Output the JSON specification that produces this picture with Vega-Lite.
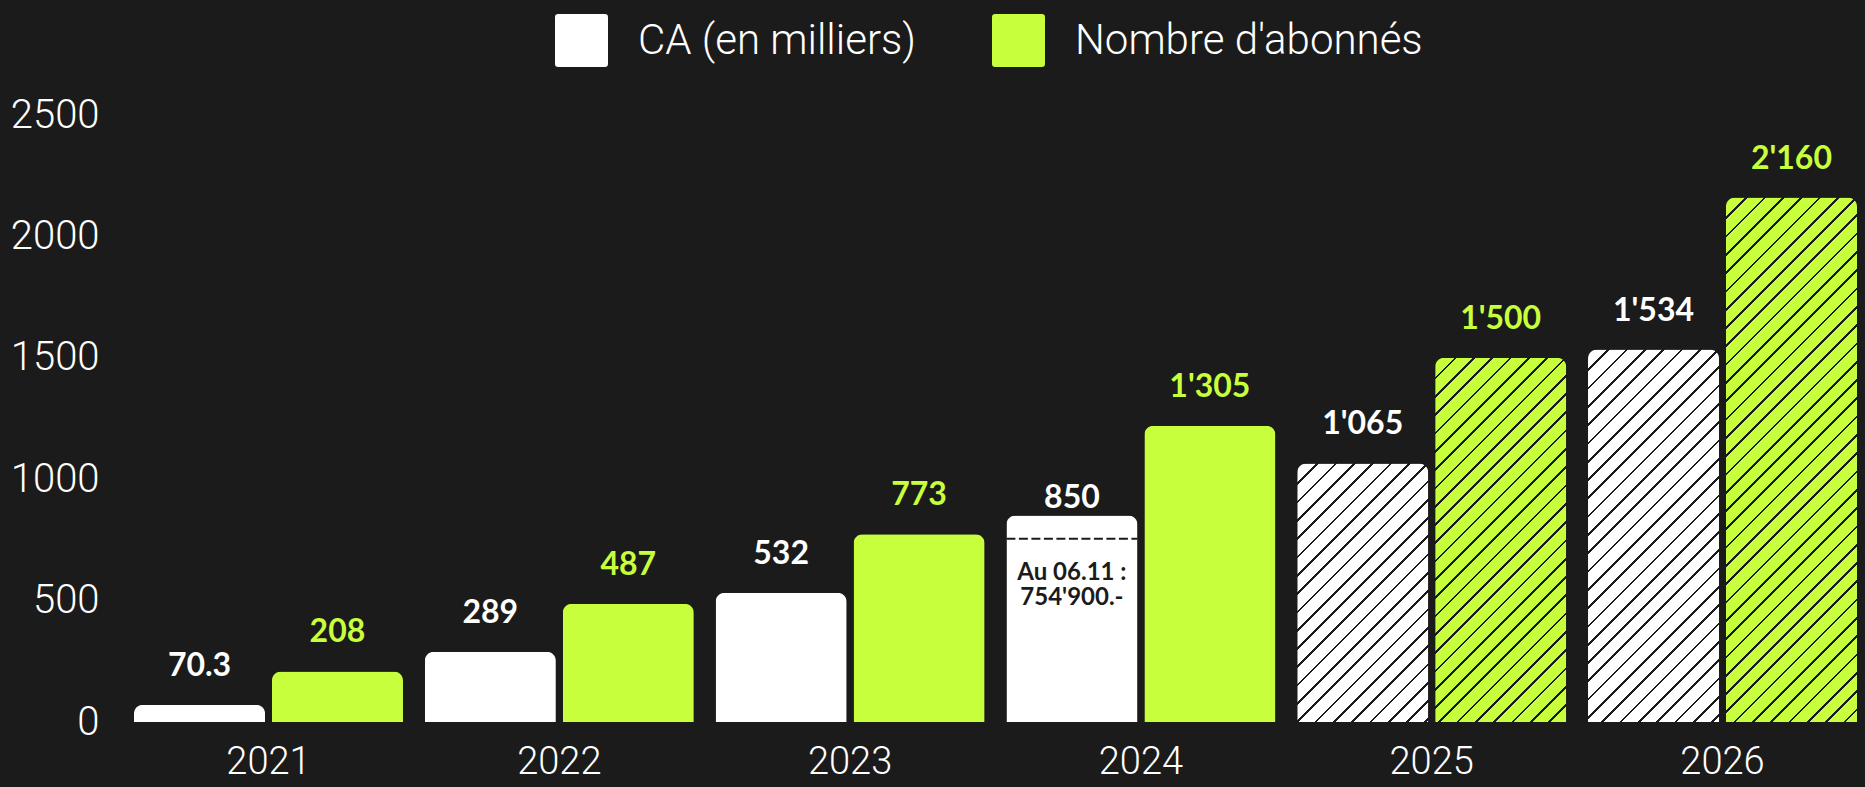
{
"$schema": "https://vega.github.io/schema/vega-lite/v6.json",
"width": 1723, "height": 607,
"autosize": {"type": "none"},
"padding": {"left": 134, "top": 115, "right": 8, "bottom": 65},
"background": "#1b1b1b",
"config": {"view": {"stroke": null}},
"data": {"values": [
{"year":"2021","series":"CA (en milliers)","value":70.3,"label":"70.3","projected":false},
{"year":"2021","series":"Nombre d'abonnés","value":208,"label":"208","projected":false},
{"year":"2022","series":"CA (en milliers)","value":289,"label":"289","projected":false},
{"year":"2022","series":"Nombre d'abonnés","value":487,"label":"487","projected":false},
{"year":"2023","series":"CA (en milliers)","value":532,"label":"532","projected":false},
{"year":"2023","series":"Nombre d'abonnés","value":773,"label":"773","projected":false},
{"year":"2024","series":"CA (en milliers)","value":850,"label":"850","projected":false,"reached":754.9,"note":"Au 06.11 :\n754'900.-"},
{"year":"2024","series":"Nombre d'abonnés","value":1220,"label":"1'305","projected":false},
{"year":"2025","series":"CA (en milliers)","value":1065,"label":"1'065","projected":true},
{"year":"2025","series":"Nombre d'abonnés","value":1500,"label":"1'500","projected":true},
{"year":"2026","series":"CA (en milliers)","value":1534,"label":"1'534","projected":true},
{"year":"2026","series":"Nombre d'abonnés","value":2160,"label":"2'160","projected":true}
]},
"encoding": {
  "x": {"field": "year", "type": "nominal", "title": null,
        "scale": {"paddingInner": 0.075, "paddingOuter": 0},
        "axis": {"labelAngle": 0, "labelFont": "Roboto", "labelFontWeight": 300, "labelFontSize": 38, "labelColor": "#ffffff", "labelPadding": 21, "ticks": false, "domain": false, "grid": false}},
  "y": {"field": "value", "type": "quantitative", "title": null,
        "scale": {"domain": [0, 2500], "nice": false},
        "axis": {"values": [0, 500, 1000, 1500, 2000, 2500], "format": "d", "labelFont": "Roboto", "labelFontWeight": 300, "labelFontSize": 40, "labelColor": "#ffffff", "labelPadding": 35, "ticks": false, "domain": false, "grid": false}}
},
"layer": [
{
  "transform": [{"filter": "!datum.projected"}],
  "mark": {"type": "bar", "cornerRadiusTopLeft": 9, "cornerRadiusTopRight": 9},
  "encoding": {
    "xOffset": {"field": "series", "type": "nominal", "scale": {"domain": ["CA (en milliers)", "Nombre d'abonnés"], "paddingInner": 0.05, "paddingOuter": 0}},
    "color": {"field": "series", "type": "nominal",
      "scale": {"domain": ["CA (en milliers)", "Nombre d'abonnés"], "range": ["#ffffff", "#c8ff3c"]},
      "legend": {"orient": "none", "legendX": 421, "legendY": -101, "direction": "horizontal", "title": null,
        "symbolType": "M-0.88,-1H0.88Q1,-1 1,-0.88V0.88Q1,1 0.88,1H-0.88Q-1,1 -1,0.88V-0.88Q-1,-1 -0.88,-1Z",
        "symbolSize": 2809, "symbolStrokeWidth": 0, "symbolOpacity": 1,
        "labelFont": "Roboto", "labelFontWeight": 300, "labelFontSize": 42, "labelColor": "#ffffff", "labelOffset": 30, "labelLimit": 600,
        "columnPadding": 75, "padding": 0}}
  }
},
{
  "transform": [{"filter": "datum.year === '2025' && datum.series === 'CA (en milliers)'"}],
  "mark": {"type": "bar", "cornerRadiusTopLeft": 9, "cornerRadiusTopRight": 9,
    "fill": {"gradient": "linear", "x1": 0, "y1": 0, "x2": 0.607596, "y2": 1.198883, "stops": [
{"offset":0,"color":"#ffffff"},
{"offset":0.00257,"color":"#ffffff"},{"offset":0.00257,"color":"#1b1b1b"},{"offset":0.0095,"color":"#1b1b1b"},{"offset":0.0095,"color":"#ffffff"},
{"offset":0.04953,"color":"#ffffff"},{"offset":0.04953,"color":"#1b1b1b"},{"offset":0.05646,"color":"#1b1b1b"},{"offset":0.05646,"color":"#ffffff"},
{"offset":0.0965,"color":"#ffffff"},{"offset":0.0965,"color":"#1b1b1b"},{"offset":0.10343,"color":"#1b1b1b"},{"offset":0.10343,"color":"#ffffff"},
{"offset":0.14347,"color":"#ffffff"},{"offset":0.14347,"color":"#1b1b1b"},{"offset":0.1504,"color":"#1b1b1b"},{"offset":0.1504,"color":"#ffffff"},
{"offset":0.19044,"color":"#ffffff"},{"offset":0.19044,"color":"#1b1b1b"},{"offset":0.19737,"color":"#1b1b1b"},{"offset":0.19737,"color":"#ffffff"},
{"offset":0.23741,"color":"#ffffff"},{"offset":0.23741,"color":"#1b1b1b"},{"offset":0.24434,"color":"#1b1b1b"},{"offset":0.24434,"color":"#ffffff"},
{"offset":0.28438,"color":"#ffffff"},{"offset":0.28438,"color":"#1b1b1b"},{"offset":0.29131,"color":"#1b1b1b"},{"offset":0.29131,"color":"#ffffff"},
{"offset":0.33134,"color":"#ffffff"},{"offset":0.33134,"color":"#1b1b1b"},{"offset":0.33827,"color":"#1b1b1b"},{"offset":0.33827,"color":"#ffffff"},
{"offset":0.37831,"color":"#ffffff"},{"offset":0.37831,"color":"#1b1b1b"},{"offset":0.38524,"color":"#1b1b1b"},{"offset":0.38524,"color":"#ffffff"},
{"offset":0.42528,"color":"#ffffff"},{"offset":0.42528,"color":"#1b1b1b"},{"offset":0.43221,"color":"#1b1b1b"},{"offset":0.43221,"color":"#ffffff"},
{"offset":0.47225,"color":"#ffffff"},{"offset":0.47225,"color":"#1b1b1b"},{"offset":0.47918,"color":"#1b1b1b"},{"offset":0.47918,"color":"#ffffff"},
{"offset":0.51922,"color":"#ffffff"},{"offset":0.51922,"color":"#1b1b1b"},{"offset":0.52615,"color":"#1b1b1b"},{"offset":0.52615,"color":"#ffffff"},
{"offset":0.56619,"color":"#ffffff"},{"offset":0.56619,"color":"#1b1b1b"},{"offset":0.57312,"color":"#1b1b1b"},{"offset":0.57312,"color":"#ffffff"},
{"offset":0.61316,"color":"#ffffff"},{"offset":0.61316,"color":"#1b1b1b"},{"offset":0.62009,"color":"#1b1b1b"},{"offset":0.62009,"color":"#ffffff"},
{"offset":0.66012,"color":"#ffffff"},{"offset":0.66012,"color":"#1b1b1b"},{"offset":0.66705,"color":"#1b1b1b"},{"offset":0.66705,"color":"#ffffff"},
{"offset":0.70709,"color":"#ffffff"},{"offset":0.70709,"color":"#1b1b1b"},{"offset":0.71402,"color":"#1b1b1b"},{"offset":0.71402,"color":"#ffffff"},
{"offset":0.75406,"color":"#ffffff"},{"offset":0.75406,"color":"#1b1b1b"},{"offset":0.76099,"color":"#1b1b1b"},{"offset":0.76099,"color":"#ffffff"},
{"offset":0.80103,"color":"#ffffff"},{"offset":0.80103,"color":"#1b1b1b"},{"offset":0.80796,"color":"#1b1b1b"},{"offset":0.80796,"color":"#ffffff"},
{"offset":0.848,"color":"#ffffff"},{"offset":0.848,"color":"#1b1b1b"},{"offset":0.85493,"color":"#1b1b1b"},{"offset":0.85493,"color":"#ffffff"},
{"offset":0.89497,"color":"#ffffff"},{"offset":0.89497,"color":"#1b1b1b"},{"offset":0.9019,"color":"#1b1b1b"},{"offset":0.9019,"color":"#ffffff"},
{"offset":0.94193,"color":"#ffffff"},{"offset":0.94193,"color":"#1b1b1b"},{"offset":0.94886,"color":"#1b1b1b"},{"offset":0.94886,"color":"#ffffff"},
{"offset":0.9889,"color":"#ffffff"},{"offset":0.9889,"color":"#1b1b1b"},{"offset":0.99583,"color":"#1b1b1b"},{"offset":0.99583,"color":"#ffffff"},
{"offset":1,"color":"#ffffff"}
    ]}},
  "encoding": {
    "xOffset": {"field": "series", "type": "nominal"}
  }
},
{
  "transform": [{"filter": "datum.year === '2025' && datum.series !== 'CA (en milliers)'"}],
  "mark": {"type": "bar", "cornerRadiusTopLeft": 9, "cornerRadiusTopRight": 9,
    "fill": {"gradient": "linear", "x1": 0, "y1": 0, "x2": 0.43321, "y2": 1.20394, "stops": [
{"offset":0,"color":"#c8ff3c"},
{"offset":0.00202,"color":"#c8ff3c"},{"offset":0.00202,"color":"#1b1b1b"},{"offset":0.00747,"color":"#1b1b1b"},{"offset":0.00747,"color":"#c8ff3c"},
{"offset":0.03897,"color":"#c8ff3c"},{"offset":0.03897,"color":"#1b1b1b"},{"offset":0.04442,"color":"#1b1b1b"},{"offset":0.04442,"color":"#c8ff3c"},
{"offset":0.07592,"color":"#c8ff3c"},{"offset":0.07592,"color":"#1b1b1b"},{"offset":0.08137,"color":"#1b1b1b"},{"offset":0.08137,"color":"#c8ff3c"},
{"offset":0.11287,"color":"#c8ff3c"},{"offset":0.11287,"color":"#1b1b1b"},{"offset":0.11832,"color":"#1b1b1b"},{"offset":0.11832,"color":"#c8ff3c"},
{"offset":0.14982,"color":"#c8ff3c"},{"offset":0.14982,"color":"#1b1b1b"},{"offset":0.15527,"color":"#1b1b1b"},{"offset":0.15527,"color":"#c8ff3c"},
{"offset":0.18677,"color":"#c8ff3c"},{"offset":0.18677,"color":"#1b1b1b"},{"offset":0.19222,"color":"#1b1b1b"},{"offset":0.19222,"color":"#c8ff3c"},
{"offset":0.22372,"color":"#c8ff3c"},{"offset":0.22372,"color":"#1b1b1b"},{"offset":0.22917,"color":"#1b1b1b"},{"offset":0.22917,"color":"#c8ff3c"},
{"offset":0.26067,"color":"#c8ff3c"},{"offset":0.26067,"color":"#1b1b1b"},{"offset":0.26612,"color":"#1b1b1b"},{"offset":0.26612,"color":"#c8ff3c"},
{"offset":0.29763,"color":"#c8ff3c"},{"offset":0.29763,"color":"#1b1b1b"},{"offset":0.30308,"color":"#1b1b1b"},{"offset":0.30308,"color":"#c8ff3c"},
{"offset":0.33458,"color":"#c8ff3c"},{"offset":0.33458,"color":"#1b1b1b"},{"offset":0.34003,"color":"#1b1b1b"},{"offset":0.34003,"color":"#c8ff3c"},
{"offset":0.37153,"color":"#c8ff3c"},{"offset":0.37153,"color":"#1b1b1b"},{"offset":0.37698,"color":"#1b1b1b"},{"offset":0.37698,"color":"#c8ff3c"},
{"offset":0.40848,"color":"#c8ff3c"},{"offset":0.40848,"color":"#1b1b1b"},{"offset":0.41393,"color":"#1b1b1b"},{"offset":0.41393,"color":"#c8ff3c"},
{"offset":0.44543,"color":"#c8ff3c"},{"offset":0.44543,"color":"#1b1b1b"},{"offset":0.45088,"color":"#1b1b1b"},{"offset":0.45088,"color":"#c8ff3c"},
{"offset":0.48238,"color":"#c8ff3c"},{"offset":0.48238,"color":"#1b1b1b"},{"offset":0.48783,"color":"#1b1b1b"},{"offset":0.48783,"color":"#c8ff3c"},
{"offset":0.51933,"color":"#c8ff3c"},{"offset":0.51933,"color":"#1b1b1b"},{"offset":0.52478,"color":"#1b1b1b"},{"offset":0.52478,"color":"#c8ff3c"},
{"offset":0.55628,"color":"#c8ff3c"},{"offset":0.55628,"color":"#1b1b1b"},{"offset":0.56173,"color":"#1b1b1b"},{"offset":0.56173,"color":"#c8ff3c"},
{"offset":0.59324,"color":"#c8ff3c"},{"offset":0.59324,"color":"#1b1b1b"},{"offset":0.59869,"color":"#1b1b1b"},{"offset":0.59869,"color":"#c8ff3c"},
{"offset":0.63019,"color":"#c8ff3c"},{"offset":0.63019,"color":"#1b1b1b"},{"offset":0.63564,"color":"#1b1b1b"},{"offset":0.63564,"color":"#c8ff3c"},
{"offset":0.66714,"color":"#c8ff3c"},{"offset":0.66714,"color":"#1b1b1b"},{"offset":0.67259,"color":"#1b1b1b"},{"offset":0.67259,"color":"#c8ff3c"},
{"offset":0.70409,"color":"#c8ff3c"},{"offset":0.70409,"color":"#1b1b1b"},{"offset":0.70954,"color":"#1b1b1b"},{"offset":0.70954,"color":"#c8ff3c"},
{"offset":0.74104,"color":"#c8ff3c"},{"offset":0.74104,"color":"#1b1b1b"},{"offset":0.74649,"color":"#1b1b1b"},{"offset":0.74649,"color":"#c8ff3c"},
{"offset":0.77799,"color":"#c8ff3c"},{"offset":0.77799,"color":"#1b1b1b"},{"offset":0.78344,"color":"#1b1b1b"},{"offset":0.78344,"color":"#c8ff3c"},
{"offset":0.81494,"color":"#c8ff3c"},{"offset":0.81494,"color":"#1b1b1b"},{"offset":0.82039,"color":"#1b1b1b"},{"offset":0.82039,"color":"#c8ff3c"},
{"offset":0.85189,"color":"#c8ff3c"},{"offset":0.85189,"color":"#1b1b1b"},{"offset":0.85734,"color":"#1b1b1b"},{"offset":0.85734,"color":"#c8ff3c"},
{"offset":0.88884,"color":"#c8ff3c"},{"offset":0.88884,"color":"#1b1b1b"},{"offset":0.89429,"color":"#1b1b1b"},{"offset":0.89429,"color":"#c8ff3c"},
{"offset":0.9258,"color":"#c8ff3c"},{"offset":0.9258,"color":"#1b1b1b"},{"offset":0.93125,"color":"#1b1b1b"},{"offset":0.93125,"color":"#c8ff3c"},
{"offset":0.96275,"color":"#c8ff3c"},{"offset":0.96275,"color":"#1b1b1b"},{"offset":0.9682,"color":"#1b1b1b"},{"offset":0.9682,"color":"#c8ff3c"},
{"offset":1,"color":"#c8ff3c"}
    ]}},
  "encoding": {
    "xOffset": {"field": "series", "type": "nominal"}
  }
},
{
  "transform": [{"filter": "datum.year === '2026' && datum.series === 'CA (en milliers)'"}],
  "mark": {"type": "bar", "cornerRadiusTopLeft": 9, "cornerRadiusTopRight": 9,
    "fill": {"gradient": "linear", "x1": 0, "y1": 0, "x2": 0.42325, "y2": 1.20293, "stops": [
{"offset":0,"color":"#ffffff"},
{"offset":0.00199,"color":"#ffffff"},{"offset":0.00199,"color":"#1b1b1b"},{"offset":0.00735,"color":"#1b1b1b"},{"offset":0.00735,"color":"#ffffff"},
{"offset":0.03833,"color":"#ffffff"},{"offset":0.03833,"color":"#1b1b1b"},{"offset":0.04369,"color":"#1b1b1b"},{"offset":0.04369,"color":"#ffffff"},
{"offset":0.07468,"color":"#ffffff"},{"offset":0.07468,"color":"#1b1b1b"},{"offset":0.08004,"color":"#1b1b1b"},{"offset":0.08004,"color":"#ffffff"},
{"offset":0.11102,"color":"#ffffff"},{"offset":0.11102,"color":"#1b1b1b"},{"offset":0.11638,"color":"#1b1b1b"},{"offset":0.11638,"color":"#ffffff"},
{"offset":0.14737,"color":"#ffffff"},{"offset":0.14737,"color":"#1b1b1b"},{"offset":0.15273,"color":"#1b1b1b"},{"offset":0.15273,"color":"#ffffff"},
{"offset":0.18371,"color":"#ffffff"},{"offset":0.18371,"color":"#1b1b1b"},{"offset":0.18907,"color":"#1b1b1b"},{"offset":0.18907,"color":"#ffffff"},
{"offset":0.22006,"color":"#ffffff"},{"offset":0.22006,"color":"#1b1b1b"},{"offset":0.22542,"color":"#1b1b1b"},{"offset":0.22542,"color":"#ffffff"},
{"offset":0.2564,"color":"#ffffff"},{"offset":0.2564,"color":"#1b1b1b"},{"offset":0.26176,"color":"#1b1b1b"},{"offset":0.26176,"color":"#ffffff"},
{"offset":0.29275,"color":"#ffffff"},{"offset":0.29275,"color":"#1b1b1b"},{"offset":0.29811,"color":"#1b1b1b"},{"offset":0.29811,"color":"#ffffff"},
{"offset":0.32909,"color":"#ffffff"},{"offset":0.32909,"color":"#1b1b1b"},{"offset":0.33445,"color":"#1b1b1b"},{"offset":0.33445,"color":"#ffffff"},
{"offset":0.36544,"color":"#ffffff"},{"offset":0.36544,"color":"#1b1b1b"},{"offset":0.3708,"color":"#1b1b1b"},{"offset":0.3708,"color":"#ffffff"},
{"offset":0.40178,"color":"#ffffff"},{"offset":0.40178,"color":"#1b1b1b"},{"offset":0.40714,"color":"#1b1b1b"},{"offset":0.40714,"color":"#ffffff"},
{"offset":0.43813,"color":"#ffffff"},{"offset":0.43813,"color":"#1b1b1b"},{"offset":0.44349,"color":"#1b1b1b"},{"offset":0.44349,"color":"#ffffff"},
{"offset":0.47447,"color":"#ffffff"},{"offset":0.47447,"color":"#1b1b1b"},{"offset":0.47983,"color":"#1b1b1b"},{"offset":0.47983,"color":"#ffffff"},
{"offset":0.51082,"color":"#ffffff"},{"offset":0.51082,"color":"#1b1b1b"},{"offset":0.51618,"color":"#1b1b1b"},{"offset":0.51618,"color":"#ffffff"},
{"offset":0.54716,"color":"#ffffff"},{"offset":0.54716,"color":"#1b1b1b"},{"offset":0.55252,"color":"#1b1b1b"},{"offset":0.55252,"color":"#ffffff"},
{"offset":0.58351,"color":"#ffffff"},{"offset":0.58351,"color":"#1b1b1b"},{"offset":0.58887,"color":"#1b1b1b"},{"offset":0.58887,"color":"#ffffff"},
{"offset":0.61985,"color":"#ffffff"},{"offset":0.61985,"color":"#1b1b1b"},{"offset":0.62521,"color":"#1b1b1b"},{"offset":0.62521,"color":"#ffffff"},
{"offset":0.6562,"color":"#ffffff"},{"offset":0.6562,"color":"#1b1b1b"},{"offset":0.66156,"color":"#1b1b1b"},{"offset":0.66156,"color":"#ffffff"},
{"offset":0.69254,"color":"#ffffff"},{"offset":0.69254,"color":"#1b1b1b"},{"offset":0.6979,"color":"#1b1b1b"},{"offset":0.6979,"color":"#ffffff"},
{"offset":0.72889,"color":"#ffffff"},{"offset":0.72889,"color":"#1b1b1b"},{"offset":0.73425,"color":"#1b1b1b"},{"offset":0.73425,"color":"#ffffff"},
{"offset":0.76523,"color":"#ffffff"},{"offset":0.76523,"color":"#1b1b1b"},{"offset":0.77059,"color":"#1b1b1b"},{"offset":0.77059,"color":"#ffffff"},
{"offset":0.80158,"color":"#ffffff"},{"offset":0.80158,"color":"#1b1b1b"},{"offset":0.80694,"color":"#1b1b1b"},{"offset":0.80694,"color":"#ffffff"},
{"offset":0.83792,"color":"#ffffff"},{"offset":0.83792,"color":"#1b1b1b"},{"offset":0.84328,"color":"#1b1b1b"},{"offset":0.84328,"color":"#ffffff"},
{"offset":0.87427,"color":"#ffffff"},{"offset":0.87427,"color":"#1b1b1b"},{"offset":0.87963,"color":"#1b1b1b"},{"offset":0.87963,"color":"#ffffff"},
{"offset":0.91061,"color":"#ffffff"},{"offset":0.91061,"color":"#1b1b1b"},{"offset":0.91597,"color":"#1b1b1b"},{"offset":0.91597,"color":"#ffffff"},
{"offset":0.94696,"color":"#ffffff"},{"offset":0.94696,"color":"#1b1b1b"},{"offset":0.95232,"color":"#1b1b1b"},{"offset":0.95232,"color":"#ffffff"},
{"offset":0.9833,"color":"#ffffff"},{"offset":0.9833,"color":"#1b1b1b"},{"offset":0.98866,"color":"#1b1b1b"},{"offset":0.98866,"color":"#ffffff"},
{"offset":1,"color":"#ffffff"}
    ]}},
  "encoding": {
    "xOffset": {"field": "series", "type": "nominal"}
  }
},
{
  "transform": [{"filter": "datum.year === '2026' && datum.series !== 'CA (en milliers)'"}],
  "mark": {"type": "bar", "cornerRadiusTopLeft": 9, "cornerRadiusTopRight": 9,
    "fill": {"gradient": "linear", "x1": 0, "y1": 0, "x2": 0.29397, "y2": 1.17646, "stops": [
{"offset":0,"color":"#c8ff3c"},
{"offset":0.00153,"color":"#c8ff3c"},{"offset":0.00153,"color":"#1b1b1b"},{"offset":0.00564,"color":"#1b1b1b"},{"offset":0.00564,"color":"#c8ff3c"},
{"offset":0.02944,"color":"#c8ff3c"},{"offset":0.02944,"color":"#1b1b1b"},{"offset":0.03356,"color":"#1b1b1b"},{"offset":0.03356,"color":"#c8ff3c"},
{"offset":0.05736,"color":"#c8ff3c"},{"offset":0.05736,"color":"#1b1b1b"},{"offset":0.06148,"color":"#1b1b1b"},{"offset":0.06148,"color":"#c8ff3c"},
{"offset":0.08528,"color":"#c8ff3c"},{"offset":0.08528,"color":"#1b1b1b"},{"offset":0.0894,"color":"#1b1b1b"},{"offset":0.0894,"color":"#c8ff3c"},
{"offset":0.1132,"color":"#c8ff3c"},{"offset":0.1132,"color":"#1b1b1b"},{"offset":0.11732,"color":"#1b1b1b"},{"offset":0.11732,"color":"#c8ff3c"},
{"offset":0.14112,"color":"#c8ff3c"},{"offset":0.14112,"color":"#1b1b1b"},{"offset":0.14524,"color":"#1b1b1b"},{"offset":0.14524,"color":"#c8ff3c"},
{"offset":0.16903,"color":"#c8ff3c"},{"offset":0.16903,"color":"#1b1b1b"},{"offset":0.17315,"color":"#1b1b1b"},{"offset":0.17315,"color":"#c8ff3c"},
{"offset":0.19695,"color":"#c8ff3c"},{"offset":0.19695,"color":"#1b1b1b"},{"offset":0.20107,"color":"#1b1b1b"},{"offset":0.20107,"color":"#c8ff3c"},
{"offset":0.22487,"color":"#c8ff3c"},{"offset":0.22487,"color":"#1b1b1b"},{"offset":0.22899,"color":"#1b1b1b"},{"offset":0.22899,"color":"#c8ff3c"},
{"offset":0.25279,"color":"#c8ff3c"},{"offset":0.25279,"color":"#1b1b1b"},{"offset":0.25691,"color":"#1b1b1b"},{"offset":0.25691,"color":"#c8ff3c"},
{"offset":0.28071,"color":"#c8ff3c"},{"offset":0.28071,"color":"#1b1b1b"},{"offset":0.28483,"color":"#1b1b1b"},{"offset":0.28483,"color":"#c8ff3c"},
{"offset":0.30862,"color":"#c8ff3c"},{"offset":0.30862,"color":"#1b1b1b"},{"offset":0.31274,"color":"#1b1b1b"},{"offset":0.31274,"color":"#c8ff3c"},
{"offset":0.33654,"color":"#c8ff3c"},{"offset":0.33654,"color":"#1b1b1b"},{"offset":0.34066,"color":"#1b1b1b"},{"offset":0.34066,"color":"#c8ff3c"},
{"offset":0.36446,"color":"#c8ff3c"},{"offset":0.36446,"color":"#1b1b1b"},{"offset":0.36858,"color":"#1b1b1b"},{"offset":0.36858,"color":"#c8ff3c"},
{"offset":0.39238,"color":"#c8ff3c"},{"offset":0.39238,"color":"#1b1b1b"},{"offset":0.3965,"color":"#1b1b1b"},{"offset":0.3965,"color":"#c8ff3c"},
{"offset":0.4203,"color":"#c8ff3c"},{"offset":0.4203,"color":"#1b1b1b"},{"offset":0.42442,"color":"#1b1b1b"},{"offset":0.42442,"color":"#c8ff3c"},
{"offset":0.44821,"color":"#c8ff3c"},{"offset":0.44821,"color":"#1b1b1b"},{"offset":0.45233,"color":"#1b1b1b"},{"offset":0.45233,"color":"#c8ff3c"},
{"offset":0.47613,"color":"#c8ff3c"},{"offset":0.47613,"color":"#1b1b1b"},{"offset":0.48025,"color":"#1b1b1b"},{"offset":0.48025,"color":"#c8ff3c"},
{"offset":0.50405,"color":"#c8ff3c"},{"offset":0.50405,"color":"#1b1b1b"},{"offset":0.50817,"color":"#1b1b1b"},{"offset":0.50817,"color":"#c8ff3c"},
{"offset":0.53197,"color":"#c8ff3c"},{"offset":0.53197,"color":"#1b1b1b"},{"offset":0.53609,"color":"#1b1b1b"},{"offset":0.53609,"color":"#c8ff3c"},
{"offset":0.55989,"color":"#c8ff3c"},{"offset":0.55989,"color":"#1b1b1b"},{"offset":0.56401,"color":"#1b1b1b"},{"offset":0.56401,"color":"#c8ff3c"},
{"offset":0.5878,"color":"#c8ff3c"},{"offset":0.5878,"color":"#1b1b1b"},{"offset":0.59192,"color":"#1b1b1b"},{"offset":0.59192,"color":"#c8ff3c"},
{"offset":0.61572,"color":"#c8ff3c"},{"offset":0.61572,"color":"#1b1b1b"},{"offset":0.61984,"color":"#1b1b1b"},{"offset":0.61984,"color":"#c8ff3c"},
{"offset":0.64364,"color":"#c8ff3c"},{"offset":0.64364,"color":"#1b1b1b"},{"offset":0.64776,"color":"#1b1b1b"},{"offset":0.64776,"color":"#c8ff3c"},
{"offset":0.67156,"color":"#c8ff3c"},{"offset":0.67156,"color":"#1b1b1b"},{"offset":0.67568,"color":"#1b1b1b"},{"offset":0.67568,"color":"#c8ff3c"},
{"offset":0.69948,"color":"#c8ff3c"},{"offset":0.69948,"color":"#1b1b1b"},{"offset":0.7036,"color":"#1b1b1b"},{"offset":0.7036,"color":"#c8ff3c"},
{"offset":0.72739,"color":"#c8ff3c"},{"offset":0.72739,"color":"#1b1b1b"},{"offset":0.73151,"color":"#1b1b1b"},{"offset":0.73151,"color":"#c8ff3c"},
{"offset":0.75531,"color":"#c8ff3c"},{"offset":0.75531,"color":"#1b1b1b"},{"offset":0.75943,"color":"#1b1b1b"},{"offset":0.75943,"color":"#c8ff3c"},
{"offset":0.78323,"color":"#c8ff3c"},{"offset":0.78323,"color":"#1b1b1b"},{"offset":0.78735,"color":"#1b1b1b"},{"offset":0.78735,"color":"#c8ff3c"},
{"offset":0.81115,"color":"#c8ff3c"},{"offset":0.81115,"color":"#1b1b1b"},{"offset":0.81527,"color":"#1b1b1b"},{"offset":0.81527,"color":"#c8ff3c"},
{"offset":0.83907,"color":"#c8ff3c"},{"offset":0.83907,"color":"#1b1b1b"},{"offset":0.84319,"color":"#1b1b1b"},{"offset":0.84319,"color":"#c8ff3c"},
{"offset":0.86698,"color":"#c8ff3c"},{"offset":0.86698,"color":"#1b1b1b"},{"offset":0.8711,"color":"#1b1b1b"},{"offset":0.8711,"color":"#c8ff3c"},
{"offset":0.8949,"color":"#c8ff3c"},{"offset":0.8949,"color":"#1b1b1b"},{"offset":0.89902,"color":"#1b1b1b"},{"offset":0.89902,"color":"#c8ff3c"},
{"offset":0.92282,"color":"#c8ff3c"},{"offset":0.92282,"color":"#1b1b1b"},{"offset":0.92694,"color":"#1b1b1b"},{"offset":0.92694,"color":"#c8ff3c"},
{"offset":0.95074,"color":"#c8ff3c"},{"offset":0.95074,"color":"#1b1b1b"},{"offset":0.95486,"color":"#1b1b1b"},{"offset":0.95486,"color":"#c8ff3c"},
{"offset":0.97866,"color":"#c8ff3c"},{"offset":0.97866,"color":"#1b1b1b"},{"offset":0.98278,"color":"#1b1b1b"},{"offset":0.98278,"color":"#c8ff3c"},
{"offset":1,"color":"#c8ff3c"}
    ]}},
  "encoding": {
    "xOffset": {"field": "series", "type": "nominal"}
  }
},
{
  "transform": [{"filter": "isValid(datum.reached)"}],
  "mark": {"type": "rule", "color": "#1b1b1b", "strokeWidth": 2, "strokeDash": [9, 3.5]},
  "encoding": {
    "x": {"field": "year", "type": "nominal", "bandPosition": 0, "title": null},
    "x2": {"field": "year", "bandPosition": 0.4872},
    "y": {"field": "reached", "type": "quantitative", "title": null}
  }
},
{
  "transform": [{"filter": "isValid(datum.reached)"}],
  "mark": {"type": "text", "align": "center", "baseline": "alphabetic", "dy": 41, "font": "Lato", "fontWeight": "bold", "fontSize": 24, "color": "#1b1b1b", "lineBreak": "\n", "lineHeight": 25},
  "encoding": {
    "xOffset": {"field": "series", "type": "nominal"},
    "y": {"field": "reached", "type": "quantitative", "title": null},
    "text": {"field": "note"}
  }
},
{
  "transform": [{"filter": "!isValid(datum.reached)"}],
  "mark": {"type": "text", "align": "center", "baseline": "alphabetic", "dy": -29, "font": "Lato", "fontWeight": "bold", "fontSize": 32},
  "encoding": {
    "xOffset": {"field": "series", "type": "nominal"},
    "text": {"field": "label"},
    "color": {"condition": {"test": "datum.series === 'CA (en milliers)'", "value": "#ffffff"}, "value": "#c8ff3c"}
  }
},
{
  "transform": [{"filter": "isValid(datum.reached)"}],
  "mark": {"type": "text", "align": "center", "baseline": "alphabetic", "dy": -31, "font": "Lato", "fontWeight": "bold", "fontSize": 32, "color": "#ffffff"},
  "encoding": {
    "xOffset": {"field": "series", "type": "nominal"},
    "y": {"field": "reached", "type": "quantitative", "title": null},
    "text": {"field": "label"}
  }
}
]
}
